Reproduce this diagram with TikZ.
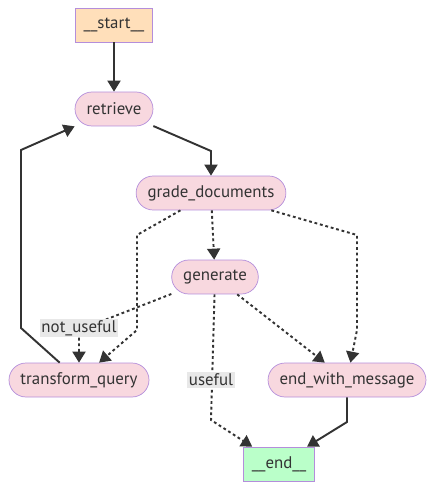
\documentclass[tikz,border=0pt]{standalone}
\usepackage{fontspec}
\setmainfont{PT Sans}
\usetikzlibrary{arrows.meta}
\definecolor{edgegray}{HTML}{333333}
\definecolor{nodeline}{HTML}{B48EDB}
\definecolor{pillfill}{HTML}{F8D8DF}
\definecolor{startfill}{HTML}{FFDFBA}
\definecolor{endfill}{HTML}{BAFFC9}
\definecolor{labelfill}{HTML}{E8E8E8}
\tikzset{
  pill/.style={draw=nodeline, fill=pillfill, rounded corners=0.34cm, minimum height=0.68cm, inner xsep=0.23cm, font=\fontsize{9.6}{11.5}\selectfont, text=edgegray},
  termbox/.style={draw=nodeline, minimum height=0.68cm, inner xsep=0.17cm, font=\fontsize{9.6}{11.5}\selectfont, text=edgegray},
  solidedge/.style={draw=edgegray, line width=1.1pt, -{Triangle[length=0.22cm,width=0.26cm]}},
  dotedge/.style={solidedge, dash pattern=on 1.6pt off 1.6pt},
  edgelabel/.style={fill=labelfill, inner sep=1pt, font=\fontsize{9.6}{11.5}\selectfont, text=edgegray}
}
\begin{document}
\begin{tikzpicture}[x=0.02cm, y=-0.02cm]
\useasboundingbox (0,0) rectangle (434,489);
\node[termbox, fill=startfill] (start) at (114,25) {\_\_start\_\_};
\node[pill] (retrieve) at (114,109) {retrieve};
\node[pill] (grade) at (211,193) {grade\_documents};
\node[pill] (generate) at (215,277) {generate};
\node[pill] (transform) at (79,380) {transform\_query};
\node[pill] (message) at (347,380) {end\_with\_message};
\node[termbox, fill=endfill] (end) at (279,464) {\_\_end\_\_};
\draw[solidedge] (start) -- (retrieve);
\draw[solidedge] (retrieve) -- (211,151) -- (grade);
\draw[dotedge] (grade) -- (137,235) -- (137,330) -- (transform);
\draw[dotedge] (grade) -- (generate);
\draw[dotedge] (grade) -- (357,235) -- (357,330) -- (message);
\draw[dotedge] (generate) -- (79,330) -- (transform);
\node[edgelabel] (notuseful) at (79,328) {not\_useful};
\draw[dotedge] (generate) -- (message);
\draw[dotedge] (generate) -- (211,420) -- (end);
\node[edgelabel] (useful) at (211,380) {useful};
\draw[solidedge] (message) -- (347,422) -- (end);
\draw[solidedge] (transform) -- (21,328) -- (21,150) -- (retrieve.south west);
\end{tikzpicture}
\end{document}
